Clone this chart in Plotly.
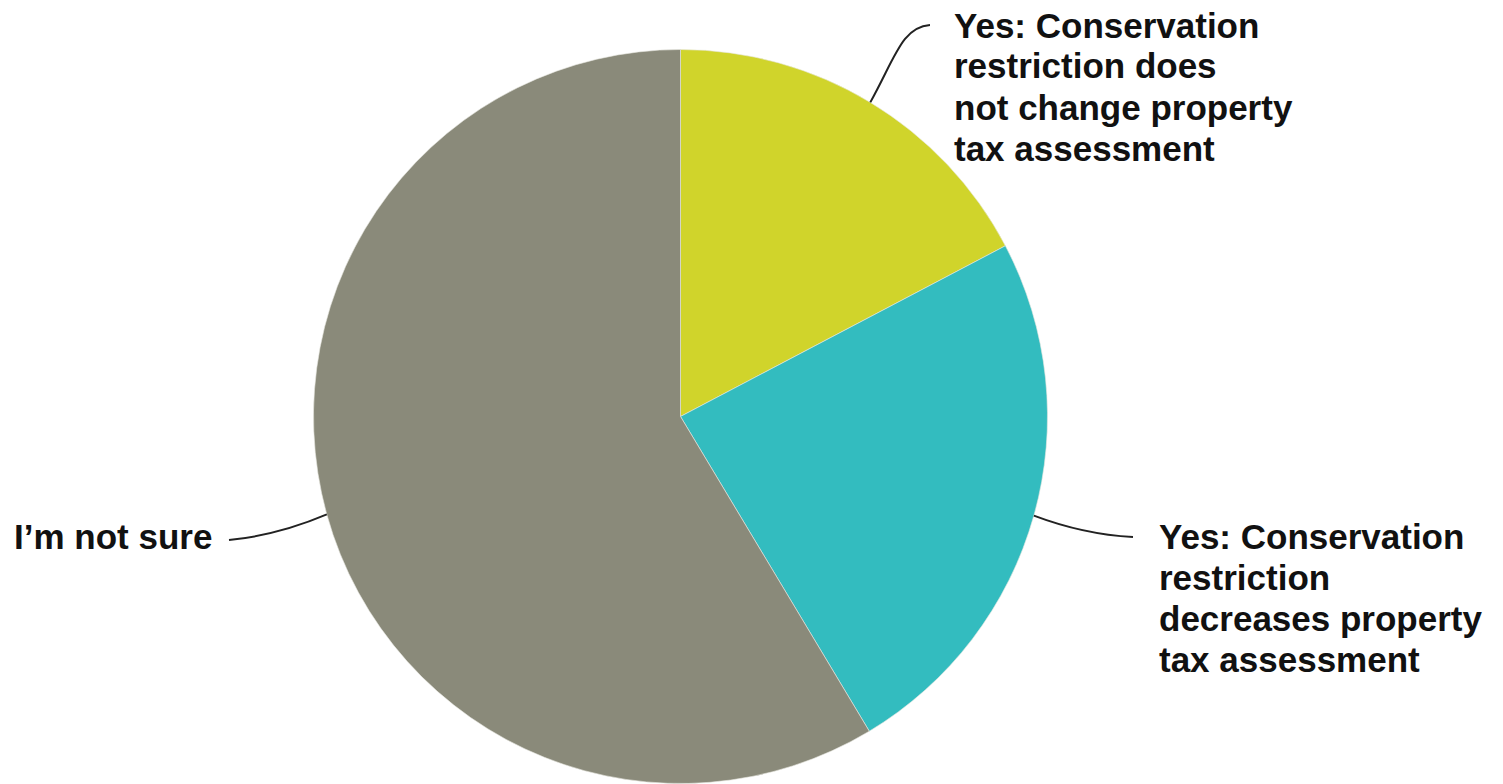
import math
import plotly.graph_objects as go

# ---- data ----
categories = [
    "Yes: Conservation restriction does not change property tax assessment",
    "Yes: Conservation restriction decreases property tax assessment",
    "I’m not sure",
]
values = [17.3, 24.1, 58.6]
colors = ["#D0D42B", "#33BCBF", "#8A8A7A"]
label_lines = [
    ["Yes: Conservation", "restriction does", "not change property", "tax assessment"],
    ["Yes: Conservation", "restriction", "decreases property", "tax assessment"],
    ["I’m not sure"],
]

# ---- layout constants (pixels, in page coordinates) ----
OFF = 8                      # default body margin of the html page
W, H = 1503 - OFF, 784 - OFF
CX, CY, R = 680.5, 416.5, 367.0
LINE_H = 41
FONT = "Liberation Sans, Arial, sans-serif"
label_pos = [(952, 25), (1157, 536), (12, 536)]      # left x, first-line centre y
leader_end = [(930, 25), (1133, 537), (229, 540)]


def px(x, y):
    return (x - OFF) / W, 1 - (y - OFF) / H


x0, y1 = px(CX - R, CY - R)
x1, y0 = px(CX + R, CY + R)

fig = go.Figure(
    go.Pie(
        labels=categories,
        values=values,
        marker=dict(colors=colors, line=dict(color="#e8e8e0", width=0.6)),
        sort=False,
        direction="clockwise",
        rotation=0,
        textinfo="none",
        hoverinfo="label+percent",
        showlegend=False,
        domain=dict(x=[x0, x1], y=[max(y0, 0), y1]),
    )
)

# leader lines from the middle of each slice's arc
total = sum(values)
cum = 0.0
shapes = []
for i, v in enumerate(values):
    mid = (cum + v / 2) / total * 2 * math.pi
    cum += v
    sx, sy = CX + R * math.sin(mid), CY - R * math.cos(mid)
    ex, ey = leader_end[i]
    if i == 0:
        c1 = (sx + 25, sy - 45)
        c2 = (ex - 28, ey + 2)
        pts = [px(sx, sy), px(*c1), px(*c2), px(ex, ey)]
        path = "M {},{} C {},{} {},{} {},{}".format(*[c for p in pts for c in p])
    else:
        ctrl = ((sx + ex) / 2, (sy + ey) / 2 + 8)
        pts = [px(sx, sy), px(*ctrl), px(ex, ey)]
        path = "M {},{} Q {},{} {},{}".format(*[c for p in pts for c in p])
    shapes.append(dict(type="path", xref="paper", yref="paper", path=path,
                       line=dict(color="#222222", width=2)))

annotations = []
for i, lines in enumerate(label_lines):
    lx, ly = label_pos[i]
    for j, t in enumerate(lines):
        x, y = px(lx, ly + j * LINE_H)
        annotations.append(dict(
            x=x, y=y, xref="paper", yref="paper", xanchor="left", yanchor="middle",
            text="<b>" + t + "</b>", showarrow=False,
            font=dict(family=FONT, size=35, color="#111111"),
        ))

fig.update_layout(
    width=W, height=H,
    margin=dict(l=0, r=0, t=0, b=0),
    paper_bgcolor="white", plot_bgcolor="white",
    shapes=shapes, annotations=annotations,
)

fig.write_html("out.html")
